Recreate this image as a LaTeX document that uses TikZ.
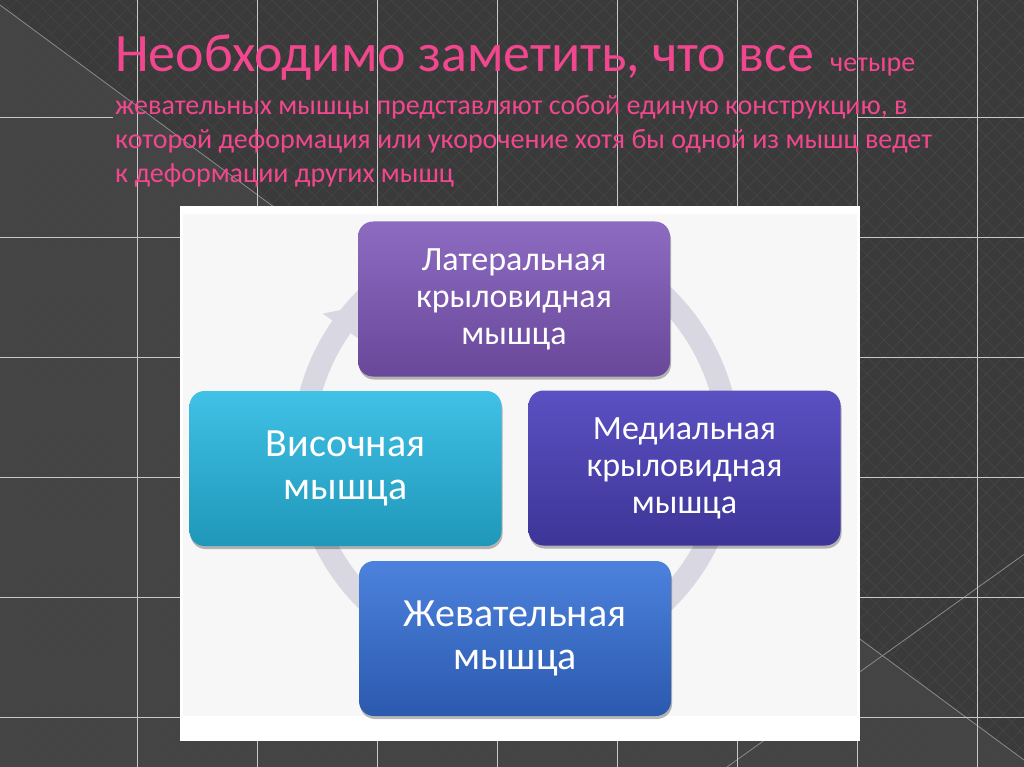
\documentclass[tikz,border=0pt]{standalone}
\usepackage{fontspec}
\setmainfont{Carlito}
\usetikzlibrary{calc,shadows}
\definecolor{bg}{HTML}{3A3A3A}
\definecolor{pat}{HTML}{464646}
\definecolor{gridc}{HTML}{C8C8C8}
\definecolor{diagc}{HTML}{8A8A8A}
\definecolor{pinkt}{HTML}{F2478E}
\definecolor{ringc}{HTML}{D9D8E2}
\definecolor{panelin}{HTML}{F7F7F7}
\definecolor{latT}{HTML}{8D6BC1}
\definecolor{latB}{HTML}{69489A}
\definecolor{visT}{HTML}{40C1E6}
\definecolor{visB}{HTML}{1F97B9}
\definecolor{medT}{HTML}{5B50C2}
\definecolor{medB}{HTML}{3D3597}
\definecolor{zhT}{HTML}{4C82DD}
\definecolor{zhB}{HTML}{2B59AE}
\begin{document}
\begin{tikzpicture}[x=1pt,y=-1pt,
  gridline/.style={gridc, line width=0.9pt},
  patline/.style={pat, line width=0.7pt},
  diagline/.style={diagc, line width=0.8pt},
  titlebig/.style={text=pinkt, inner sep=0pt, anchor=base west, font=\fontsize{54}{54}\selectfont},
  titlesmall/.style={text=pinkt, inner sep=0pt, anchor=base west, font=\fontsize{28}{34}\selectfont},
  box/.style={rounded corners=15pt, minimum width=312pt, minimum height=155pt, text=white, align=center, inner sep=0pt,
    drop shadow={shadow xshift=1pt, shadow yshift=-3pt, opacity=0.28, fill=black}},
  threeline/.style={font=\fontsize{34}{37}\selectfont},
  twoline/.style={font=\fontsize{40}{43}\selectfont}
]
\useasboundingbox (0,0) rectangle (1024,767);
% background
\fill[bg] (0,0) rectangle (1024,767);
\fill[white, opacity=0.05] (0,5) -- (1024,760) -- (1024,767) -- (0,767) -- cycle;
\begin{scope}
  \clip (0,0) rectangle (1024,767);
  \foreach \c in {0,17,...,1800} \draw[patline] (\c,0) -- (\c-767,767);
  \foreach \c in {-782,-765,...,1024} \draw[patline] (\c,0) -- (\c+767,767);
  \draw[diagline] (0,5) -- (1024,760);
  \draw[diagline] (1100,500) -- (727,767);
\end{scope}
% grid
\foreach \x in {137,257,...,977} \draw[gridline] (\x,0) -- (\x,767);
\foreach \y in {237,357,...,717} \draw[gridline] (0,\y) -- (1024,\y);
\draw[gridline] (0,117) -- (113,117);
\draw[gridline] (857,117) -- (1024,117);
% title
\node[titlebig] (t1) at (115,72) {Необходимо заметить, что все};
\node[titlesmall] (t1b) at (830,72) {четыре};
\node[titlesmall] (t2) at (115,115) {жевательных мышцы представляют собой единую конструкцию, в};
\node[titlesmall] (t3) at (115,149) {которой деформация или укорочение хотя бы одной из мышц ведет};
\node[titlesmall] (t4) at (115,183) {к деформации других мышц};
% panel
\fill[white] (180,206) rectangle (860,741);
\fill[panelin] (183,214) rectangle (857,716);
% cycle ring
\coordinate (ctr) at (516,449);
\draw[ringc, line width=22pt] (ctr) circle[radius=213];
\coordinate (hA) at (322.7,313.6);
\coordinate (hT) at (357.7,306.5);
\coordinate (hB) at (360.4,340.0);
\fill[ringc] (hA) -- (hT) -- (hB) -- cycle;
% boxes
\node[box, threeline, top color=latT, bottom color=latB] (lat) at (514,299) {Латеральная\\крыловидная\\мышца};
\node[box, twoline, top color=visT, bottom color=visB] (vis) at (345.5,468.5) {Височная\\мышца};
\node[box, threeline, top color=medT, bottom color=medB] (med) at (684.5,468) {Медиальная\\крыловидная\\мышца};
\node[box, twoline, top color=zhT, bottom color=zhB] (zhev) at (515,638.5) {Жевательная\\мышца};
\end{tikzpicture}
\end{document}
